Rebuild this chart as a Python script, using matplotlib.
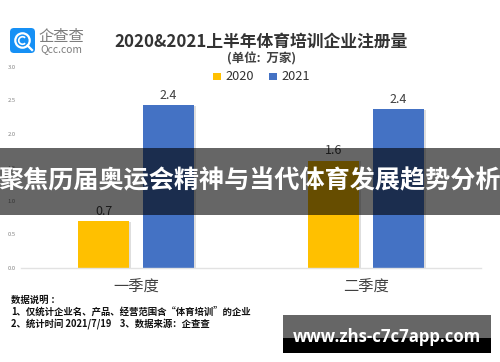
import matplotlib
matplotlib.use("Agg")
import matplotlib.pyplot as plt
import matplotlib.patheffects as pe
from matplotlib.patches import FancyBboxPatch, Rectangle, Circle, Arc

plt.rcParams['font.family'] = ['Noto Sans CJK SC', 'DejaVu Sans']

categories = ['一季度', '二季度']
series_names = ['2020', '2021']
values_2020 = [0.7, 1.6]
values_2021 = [2.43, 2.37]
labels_2020 = ['0.7', '1.6']
labels_2021 = ['2.4', '2.4']
y_ticks = [0.0, 0.5, 1.0, 1.5, 2.0, 2.5, 3.0]
colors = ['#FFC000', '#4472C4']
title = '2020&2021上半年体育培训企业注册量'
unit = '(单位:  万家)'
notes = ['数据说明 ：', '1、仅统计企业名、产品、经营范围含“体育培训”的企业', '2、统计时间 2021/7/19    3、数据来源：企查查']
banner = '聚焦历届奥运会精神与当代体育发展趋势分析'
site = 'www.zhs-c7c7app.com'

W, H = 500, 362
fig = plt.figure(figsize=(W / 100, H / 100), dpi=100, facecolor='white')
ax = fig.add_axes([21 / W, 1 - 268 / H, 460 / W, 201 / H])
ax.set_xlim(-0.5, 1.5)
ax.set_ylim(0, 3.0)
shadow = [pe.SimplePatchShadow(offset=(1.0, -0.3), shadow_rgbFace='#c8c8c8', alpha=0.6), pe.Normal()]
off = 0.141
bw = 0.225
for i, (a, b) in enumerate(zip(values_2020, values_2021)):
    r1 = ax.bar(i - off, a, bw, color=colors[0], zorder=2)[0]
    r2 = ax.bar(i + off, b, bw, color=colors[1], zorder=2)[0]
    r1.set_path_effects(shadow)
    r2.set_path_effects(shadow)
    ax.text(i - off, a + 0.05, labels_2020[i], ha='center', va='bottom', fontsize=9, color='#404040')
    ax.text(i + off, b + 0.05, labels_2021[i], ha='center', va='bottom', fontsize=9, color='#404040')
for s in ['top', 'left', 'right']:
    ax.spines[s].set_visible(False)
ax.spines['bottom'].set_color('#e2e2e2')
ax.spines['bottom'].set_linewidth(1)
ax.set_yticks(y_ticks)
ax.set_yticklabels([f'{t:.1f}' for t in y_ticks], fontsize=4.2, color='#808080')
ax.tick_params(axis='y', length=0, pad=4)
ax.set_xticks(range(len(categories)))
ax.set_xticklabels(categories, fontsize=11, color='#404040')
ax.tick_params(axis='x', length=0, pad=8)

ov = fig.add_axes([0, 0, 1, 1], facecolor='none', zorder=5)
ov.set_xlim(0, W)
ov.set_ylim(H, 0)
ov.axis('off')

# logo
ov.add_patch(FancyBboxPatch((12, 30), 21, 21, boxstyle='round,pad=2,rounding_size=4', fc='#1690F5', ec='none'))
ov.add_patch(Circle((22.5, 40.5), 7.2, fc='none', ec='white', lw=1.6))
ov.add_patch(Arc((22.5, 40.5), 7.5, 7.5, theta1=45, theta2=315, ec='white', lw=1.2))
ov.plot([27.5, 32], [45.5, 50], color='white', lw=1.6)
ov.text(61.5, 36.5, '企查查', ha='center', va='center', fontsize=11, color='#7d7d7d')
ov.text(61.5, 49.5, 'Qcc.com', ha='center', va='center', fontsize=7.4, color='#7d7d7d', fontweight='medium')

# titles
ov.text(261.5, 42, title, ha='center', va='center', fontsize=12.1, fontweight='bold', color='#333333')
ov.text(261.5, 59, unit, ha='center', va='center', fontsize=9, fontweight='bold', color='#404040')

# legend
for x, c, n in zip([213, 269], colors, series_names):
    ov.add_patch(Rectangle((x, 73), 8, 7, fc=c, ec='none'))
    ov.text(x + 12, 77, n, ha='left', va='center', fontsize=9.2, color='#333333', fontweight='medium')

# notes
for y, s in zip([300, 312, 324], notes):
    ov.text(11, y, s, ha='left', va='center', fontsize=6.75, fontweight='bold', color='#111111')

# banner
ov.add_patch(Rectangle((0, 148), W, 67, fc='black', alpha=0.6, ec='none'))
ov.text(250, 181, banner, ha='center', va='center', fontsize=18.1, fontweight='bold', color='white')

# site watermark
ov.add_patch(Rectangle((283, 315), 208, 23, fc='#666666', ec='none'))
ov.add_patch(Rectangle((283, 338), 208, 15, fc='black', ec='none'))
ov.text(386.5, 337, site, ha='center', va='center', fontsize=12.1, fontweight='bold', color='white', family=['Open Sans', 'DejaVu Sans'])

fig.savefig('out.png', dpi=100)
